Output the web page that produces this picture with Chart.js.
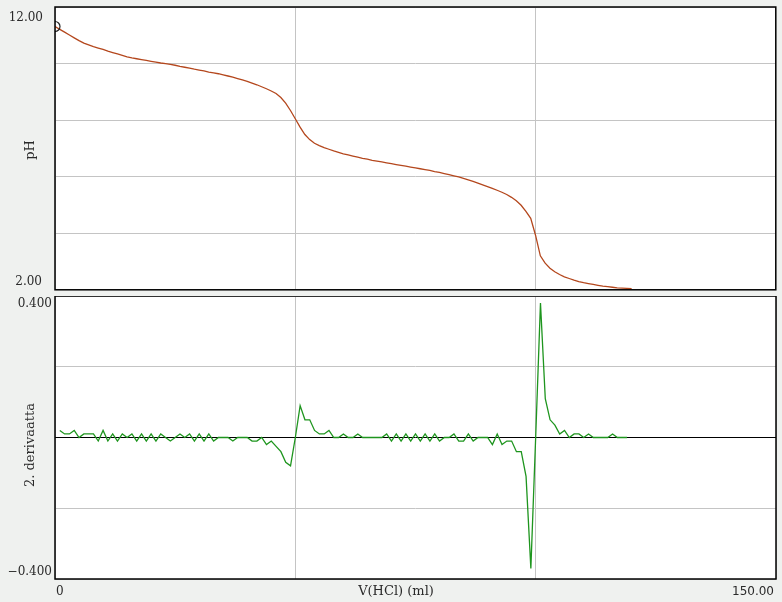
<!DOCTYPE html>
<html>
<head>
<meta charset="utf-8">
<script src="https://cdn.jsdelivr.net/npm/chart.js@4.4.1/dist/chart.umd.min.js"></script>
<style>
  html, body { margin: 0; padding: 0; background: #eff1ef; }
  body { width: 782px; height: 602px; position: relative; overflow: hidden; }
  canvas { position: absolute; left: 0; }
  #phChart { top: 0; }
  #derivChart { top: 296px; }
</style>
</head>
<body>
<canvas id="phChart" width="782" height="296"></canvas>
<canvas id="derivChart" width="782" height="306"></canvas>
<script>
// titration data, V(HCl) in ml
const volumes = [
  0, 1, 2, 3, 4, 5, 6, 7, 8, 9,
  10, 11, 12, 13, 14, 15, 16, 17, 18, 19,
  20, 21, 22, 23, 24, 25, 26, 27, 28, 29,
  30, 31, 32, 33, 34, 35, 36, 37, 38, 39,
  40, 41, 42, 43, 44, 45, 46, 47, 48, 49,
  50, 51, 52, 53, 54, 55, 56, 57, 58, 59,
  60, 61, 62, 63, 64, 65, 66, 67, 68, 69,
  70, 71, 72, 73, 74, 75, 76, 77, 78, 79,
  80, 81, 82, 83, 84, 85, 86, 87, 88, 89,
  90, 91, 92, 93, 94, 95, 96, 97, 98, 99,
  100, 101, 102, 103, 104, 105, 106, 107, 108, 109,
  110, 111, 112, 113, 114, 115, 116, 117, 118, 119,
  120
];
const phValues = [
  11.31, 11.21, 11.11, 11.01, 10.91, 10.81, 10.72, 10.66, 10.60, 10.55,
  10.50, 10.44, 10.39, 10.34, 10.29, 10.24, 10.20, 10.17, 10.14, 10.11,
  10.08, 10.05, 10.02, 10.00, 9.97, 9.94, 9.90, 9.87, 9.84, 9.80,
  9.77, 9.74, 9.70, 9.67, 9.64, 9.60, 9.56, 9.52, 9.47, 9.42,
  9.37, 9.31, 9.25, 9.18, 9.11, 9.03, 8.94, 8.80, 8.60, 8.34,
  8.05, 7.75, 7.49, 7.31, 7.18, 7.10, 7.03, 6.97, 6.91, 6.86,
  6.81, 6.77, 6.73, 6.69, 6.65, 6.62, 6.58, 6.55, 6.52, 6.49,
  6.46, 6.43, 6.40, 6.37, 6.34, 6.31, 6.28, 6.25, 6.22, 6.18,
  6.15, 6.11, 6.07, 6.03, 5.99, 5.94, 5.89, 5.83, 5.77, 5.71,
  5.65, 5.59, 5.52, 5.45, 5.37, 5.27, 5.15, 4.99, 4.77, 4.53,
  3.93, 3.20, 2.94, 2.76, 2.64, 2.54, 2.46, 2.40, 2.34, 2.29,
  2.25, 2.22, 2.19, 2.16, 2.13, 2.11, 2.09, 2.07, 2.06, 2.05,
  2.04
];
// 2. derivaatta, no value at the first and last volume
const derivValues = [
  null,
  0.02, 0.01, 0.01, 0.02, 0, 0.01, 0.01, 0.01, -0.01, 0.02,
  -0.01, 0.01, -0.01, 0.01, 0, 0.01, -0.01, 0.01, -0.01, 0.01,
  -0.01, 0.01, 0, -0.01, 0, 0.01, 0, 0.01, -0.01, 0.01,
  -0.01, 0.01, -0.01, 0, 0, 0, -0.01, 0, 0, 0,
  -0.01, -0.01, 0, -0.02, -0.01, -0.025, -0.04, -0.07, -0.08, 0,
  0.09, 0.05, 0.05, 0.02, 0.01, 0.01, 0.02, 0, 0, 0.01,
  0, 0, 0.01, 0, 0, 0, 0, 0, 0.01, -0.01,
  0.01, -0.01, 0.01, -0.01, 0.01, -0.01, 0.01, -0.01, 0.01, -0.01,
  0, 0, 0.01, -0.01, -0.01, 0.01, -0.01, 0, 0, 0,
  -0.02, 0.01, -0.02, -0.01, -0.01, -0.04, -0.04, -0.11, -0.37, 0,
  0.38, 0.11, 0.05, 0.035, 0.01, 0.02, 0, 0.01, 0.01, 0,
  0.01, 0, 0, 0, 0, 0.01, 0, 0, 0,
  null
];
const phTickLabels = ['12.00', '2.00'];
const derivTickLabels = ['0.400', '\u22120.400'];
const xTickLabels = ['0', '150.00'];
const xTitle = 'V(HCl) (ml)';
const phTitle = 'pH';
const derivTitle = '2. derivaatta';

const NUM_FONT = '12px "DejaVu Serif", serif';
const TITLE_FONT = '13px "DejaVu Serif", serif';

// white plot area + black frame + the few texts the original shows
const panelPlugin = {
    id: 'panel',
    beforeDraw(chart) {
        const a = chart.chartArea, ctx = chart.ctx;
        ctx.save();
        ctx.fillStyle = '#ffffff';
        ctx.fillRect(a.left, a.top, a.right - a.left, a.bottom - a.top);
        ctx.restore();
    },
    afterDraw(chart, args, opts) {
        const a = chart.chartArea, ctx = chart.ctx;
        ctx.save();
        ctx.strokeStyle = '#000';
        ctx.lineWidth = 1.5;
        ctx.strokeRect(a.left, a.top, a.right - a.left, a.bottom - a.top);
        (opts.texts || []).forEach(t => {
            ctx.save();
            ctx.font = t.font || NUM_FONT;
            ctx.fillStyle = '#2a2a2a';
            ctx.textAlign = t.align || 'right';
            ctx.textBaseline = 'middle';
            ctx.translate(t.x, t.y);
            if (t.rotate) ctx.rotate(-Math.PI / 2);
            ctx.fillText(t.text, 0, 0);
            ctx.restore();
        });
        ctx.restore();
    }
};

function xScale() {
    return {
        type: 'linear', min: 0, max: 150,
        ticks: { display: false, stepSize: 50 },
        grid: { color: '#c4c4c4', lineWidth: 1, drawTicks: false },
        border: { display: false },
        afterFit: s => { s.height = 0; }
    };
}

const phChart = new Chart(document.getElementById('phChart'), {
    type: 'line',
    data: {
        labels: volumes,
        datasets: [{
            data: phValues,
            borderColor: '#b4471d',
            borderWidth: 1.3,
            tension: 0,
            pointRadius: phValues.map((v, i) => i === 0 ? 5 : 0),
            pointBorderColor: '#222',
            pointBorderWidth: 1.2,
            pointBackgroundColor: 'rgba(0,0,0,0)'
        }]
    },
    options: {
        responsive: false, animation: false,
        layout: { padding: { left: 0, right: 6, top: 7, bottom: 6 } },
        scales: {
            x: xScale(),
            y: {
                min: 2, max: 12,
                ticks: { display: false, stepSize: 2 },
                grid: { color: '#c4c4c4', lineWidth: 1, drawTicks: false },
                border: { display: false },
                afterFit: s => { s.width = 55; }
            }
        },
        plugins: {
            legend: { display: false }, tooltip: { enabled: false },
            panel: {
                texts: [
                    { text: phTickLabels[0], x: 43, y: 18 },
                    { text: phTickLabels[1], x: 42, y: 282 },
                    { text: phTitle, x: 31, y: 150, rotate: true, align: 'center', font: TITLE_FONT }
                ]
            }
        }
    },
    plugins: [panelPlugin]
});

const derivChart = new Chart(document.getElementById('derivChart'), {
    type: 'line',
    data: {
        labels: volumes,
        datasets: [{
            data: derivValues,
            borderColor: '#1e951e',
            borderWidth: 1.3,
            tension: 0,
            pointRadius: 0
        }]
    },
    options: {
        responsive: false, animation: false,
        layout: { padding: { left: 0, right: 6, top: 0, bottom: 23 } },
        scales: {
            x: xScale(),
            y: {
                min: -0.4, max: 0.4,
                ticks: { display: false, stepSize: 0.2 },
                grid: {
                    color: c => Math.abs(c.tick.value) < 1e-9 ? '#000' : '#c4c4c4',
                    lineWidth: 1, drawTicks: false
                },
                border: { display: false },
                afterFit: s => { s.width = 55; }
            }
        },
        plugins: {
            legend: { display: false }, tooltip: { enabled: false },
            panel: {
                texts: [
                    { text: derivTickLabels[0], x: 52, y: 8 },
                    { text: derivTickLabels[1], x: 52, y: 276 },
                    { text: derivTitle, x: 31, y: 149, rotate: true, align: 'center', font: TITLE_FONT },
                    { text: xTickLabels[0], x: 56, y: 296, align: 'left' },
                    { text: xTitle, x: 396, y: 296, align: 'center', font: TITLE_FONT },
                    { text: xTickLabels[1], x: 774, y: 296, font: '12px "DejaVu Sans", sans-serif' }
                ]
            }
        }
    },
    plugins: [panelPlugin]
});
</script>
</body>
</html>
